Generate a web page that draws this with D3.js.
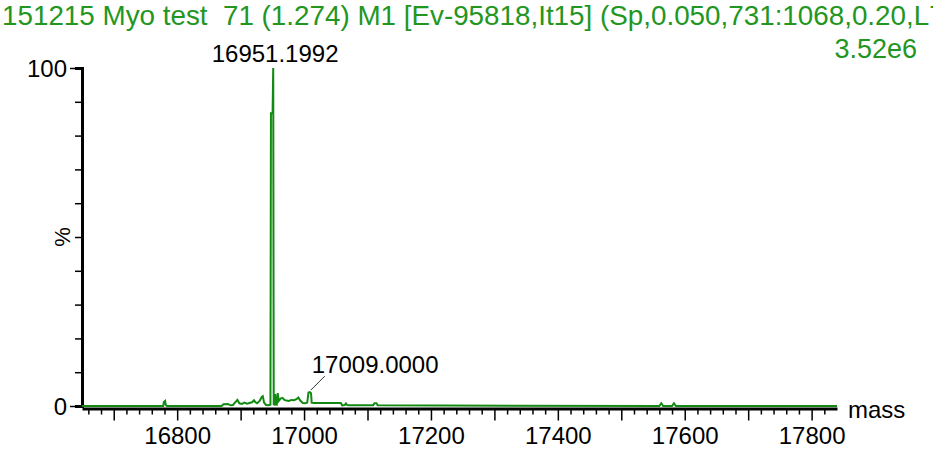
<!DOCTYPE html>
<html>
<head>
<meta charset="utf-8">
<script src="https://cdn.jsdelivr.net/npm/d3@7"></script>
<style>
  html, body { margin: 0; padding: 0; background: #fff; }
  svg { display: block; font-family: Arial, "Liberation Sans", sans-serif; }
</style>
</head>
<body>
<svg id="chart" width="933" height="450"></svg>
<script>
// Deconvoluted mass spectrum (MaxEnt M1), relative intensity in %
const titleText = "151215 Myo test  71 (1.274) M1 [Ev-95818,It15] (Sp,0.050,731:1068,0.20,L70";
const intensityMax = "3.52e6";

const massValues = [
  16650, 16778, 16779, 16781, 16782, 16784,
  16870, 16873, 16880, 16884, 16888, 16892, 16895, 16898, 16902, 16906, 16910,
  16914, 16918, 16921, 16923, 16926, 16930, 16933, 16935, 16937, 16940, 16943,
  16947, 16947.8, 16950.4, 16951.4, 16952.2, 16953.5, 16954.5, 16955.5,
  16957, 16958.5, 16960, 16963, 16966, 16969, 16972, 16976, 16980, 16984,
  16988, 16991, 16994, 16998, 17002, 17005, 17007, 17009, 17011, 17012,
  17015, 17040, 17058, 17060, 17064, 17066, 17068, 17072,
  17109, 17111, 17114, 17116,
  17560, 17563, 17566, 17580, 17583, 17586, 17840
];
const percentValues = [
  0, 0, 1.2, 1.5, 0.3, 0,
  0, 0.5, 0.6, 0.2, 0.3, 1.2, 1.8, 0.8, 0.6, 1.0, 0.7,
  0.9, 1.1, 1.7, 1.2, 0.8, 1.5, 2.6, 2.9, 1.0, 0.3, 0.2,
  0.4, 86.6, 86.6, 100, 0.5, 0.4, 3.5, 0.5,
  0.4, 3.8, 1.5, 2.2, 2.4, 1.8, 1.6, 1.5, 1.8, 1.7,
  2.0, 2.5, 1.6, 0.9, 0.8, 1.0, 4.0, 4.1, 3.8, 1.0,
  0.9, 0.9, 0.9, 0.2, 0.3, 0.8, 0.3, 0.2,
  0.2, 0.8, 0.8, 0.2,
  0, 0.8, 0, 0, 0.8, 0, 0
];

// Labelled peaks
const peakMasses = [16951.1992, 17009.0000];
const peakPercents = [100, 4.1];
const peakLabels = ["16951.1992", "17009.0000"];

const xMajorTicks = [16800, 17000, 17200, 17400, 17600, 17800];
const yTicks = [0, 10, 20, 30, 40, 50, 60, 70, 80, 90, 100];
const yLabels = ["0", "100"];

const svg = d3.select("#chart");
const green = "#128a12";
const titleGreen = "#23961f";

const x = d3.scaleLinear().domain([16650, 17840]).range([82, 837]);
const y = d3.scaleLinear().domain([0, 100]).range([406, 68]);

// Title and intensity scale
svg.append("text")
  .attr("x", 2).attr("y", 25)
  .attr("font-size", 27.8).attr("fill", titleGreen)
  .attr("xml:space", "preserve")
  .text(titleText);
svg.append("text")
  .attr("x", 917).attr("y", 58)
  .attr("text-anchor", "end")
  .attr("font-size", 27).attr("fill", titleGreen)
  .text(intensityMax);

// X axis: minor ticks every 20 Da, long ticks every 100 Da, labels every 200 Da
const minorX = d3.range(16660, 17840, 20).filter(v => v % 100 !== 0);
const mediumX = d3.range(16700, 17840, 100);
const axisY = 408.5;

svg.append("g")
  .attr("transform", `translate(0,${axisY})`)
  .call(d3.axisBottom(x).tickValues(minorX).tickSize(6).tickSizeOuter(0).tickFormat(""))
  .call(g => g.select(".domain").remove());
const xAxis = svg.append("g")
  .attr("transform", `translate(0,${axisY})`)
  .call(d3.axisBottom(x).tickValues(mediumX).tickSize(12).tickSizeOuter(0)
    .tickPadding(6)
    .tickFormat(d => xMajorTicks.includes(d) ? String(d) : ""));
xAxis.select(".domain").attr("stroke-width", 3);
xAxis.selectAll("text").attr("font-size", 24).attr("fill", "#000")
  .attr("font-family", "Arial, 'Liberation Sans', sans-serif");
svg.selectAll(".tick line").attr("stroke", "#000").attr("stroke-width", 1.5);

// Y axis
const yAxis = svg.append("g")
  .attr("transform", "translate(82,0)")
  .call(d3.axisLeft(y).tickValues(yTicks).tickSizeOuter(0)
    .tickSize(7).tickPadding(6)
    .tickFormat(d => yLabels.includes(String(d)) ? String(d) : ""));
yAxis.select(".domain").attr("stroke-width", 3);
yAxis.selectAll(".tick line").attr("stroke", "#000").attr("stroke-width", 1.5)
  .attr("x2", d => (d === 0 || d === 100) ? -12 : -7);
yAxis.selectAll(".tick text").attr("font-size", 24).attr("fill", "#000")
  .attr("x", -15).attr("dy", "0.36em")
  .attr("font-family", "Arial, 'Liberation Sans', sans-serif");

svg.append("text")
  .attr("transform", `translate(70,${y(50)}) rotate(-90)`)
  .attr("text-anchor", "middle")
  .attr("font-size", 22).attr("fill", "#000")
  .text("%");

svg.append("text")
  .attr("x", 848).attr("y", 418)
  .attr("font-size", 24).attr("fill", "#000")
  .text("mass");

// Spectrum trace
const pts = massValues.map((m, i) => [m, percentValues[i]]);
svg.append("path")
  .datum(pts)
  .attr("fill", "none")
  .attr("stroke", green)
  .attr("stroke-width", 2)
  .attr("stroke-linejoin", "miter")
  .attr("d", d3.line().x(d => x(d[0])).y(d => y(d[1])));

// Peak annotations
svg.append("text")
  .attr("x", x(peakMasses[0]) + 2).attr("y", 62)
  .attr("text-anchor", "middle")
  .attr("font-size", 24).attr("fill", "#000")
  .text(peakLabels[0]);

const p2x = x(peakMasses[1]), p2y = y(peakPercents[1]);
svg.append("line")
  .attr("x1", p2x + 1).attr("y1", p2y - 2)
  .attr("x2", p2x + 15).attr("y2", p2y - 16)
  .attr("stroke", "#333").attr("stroke-width", 1);
svg.append("text")
  .attr("x", p2x + 2).attr("y", 373)
  .attr("font-size", 24).attr("fill", "#000")
  .text(peakLabels[1]);
</script>
</body>
</html>
